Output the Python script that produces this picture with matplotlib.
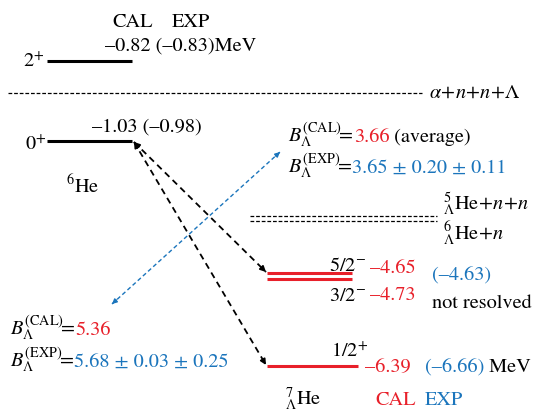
import matplotlib
matplotlib.use("Agg")
import matplotlib.pyplot as plt
import numpy as np

plt.rcParams['font.family'] = ['STIXGeneral', 'DejaVu Serif']
plt.rcParams['mathtext.fontset'] = 'stix'

RED = '#e8202a'
BLUE = '#1b75bc'

# ---------------- data ----------------
he6_spins = ['2', '0']
he6_parity = ['+', '+']
he6_cal = [-0.82, -1.03]
he6_exp = [-0.83, -0.98]

he7_spins = ['5/2', '3/2', '1/2']
he7_parity = ['-', '-', '+']
he7_cal = [-4.65, -4.73, -6.39]
he7_exp = [-4.63, -6.66]

bl_cal = [3.66, 5.36]
bl_exp = [3.65, 5.68]
bl_stat = [0.20, 0.03]
bl_sys = [0.11, 0.25]

def fm(v):
    return ('%.2f' % v).replace('-', '\u2013')

def par(p):
    return '\u2212' if p == '-' else '+'

# ---------------- figure ----------------
W, H = 538, 414
fig = plt.figure(figsize=(W / 100, H / 100), dpi=100)
ax = fig.add_axes([0, 0, 1, 1])
ax.set_xlim(0, W)
ax.set_ylim(H, 0)
ax.axis('off')
renderer = fig.canvas.get_renderer()
FS = 14.6

def seq(x, y, parts, fs=FS):
    for s, c in parts:
        t = ax.text(x, y, s, color=c, fontsize=fs, ha='left', va='baseline')
        bb = t.get_window_extent(renderer=renderer)
        x += bb.width
    return x

# 6He levels
ax.plot([47, 132], [62, 62], color='black', lw=2.2, solid_capstyle='butt')
ax.plot([47, 132], [142, 142], color='black', lw=2.2, solid_capstyle='butt')
seq(23, 67, [(he6_spins[0] + '$^{' + par(he6_parity[0]) + '}$', 'black')])
seq(25, 150, [(he6_spins[1] + '$^{' + par(he6_parity[1]) + '}$', 'black')])
seq(112, 27, [('CAL', 'black')])
seq(172, 27, [('EXP', 'black')])
seq(105, 51, [(fm(he6_cal[0]) + ' (' + fm(he6_exp[0]) + ')MeV', 'black')])
seq(92, 132, [(fm(he6_cal[1]) + ' (' + fm(he6_exp[1]) + ')', 'black')])
seq(66, 193, [(r'$^{6}\mathrm{He}$', 'black')])

# thresholds
ax.plot([8, 422], [94, 94], color='black', lw=0.9, dashes=(3, 1.5))
seq(429, 98, [(r'$\alpha\!+\!n\!+\!n\!+\!\Lambda$', 'black')])
ax.plot([250, 437], [217, 217], color='black', lw=0.9, dashes=(3, 1.5))
ax.plot([250, 437], [222, 222], color='black', lw=0.9, dashes=(3, 1.5))
seq(443, 210, [(r'${}^{5}_{\Lambda}\mathrm{He}\!+\!n\!+\!n$', 'black')])
seq(443, 240, [(r'${}^{6}_{\Lambda}\mathrm{He}\!+\!n$', 'black')])

# 7LHe levels
ax.plot([267, 352], [274, 274], color=RED, lw=2.2, solid_capstyle='butt')
ax.plot([267, 352], [280, 280], color=RED, lw=2.2, solid_capstyle='butt')
ax.plot([267, 358], [367, 367], color=RED, lw=2.2, solid_capstyle='butt')

seq(329, 271, [(he7_spins[0] + '$^{' + par(he7_parity[0]) + '}$', 'black')])
seq(329, 301, [(he7_spins[1] + '$^{' + par(he7_parity[1]) + '}$', 'black')])
seq(331, 357, [(he7_spins[2] + '$^{' + par(he7_parity[2]) + '}$', 'black')])
seq(370, 273, [(fm(he7_cal[0]), RED)])
seq(370, 300, [(fm(he7_cal[1]), RED)])
seq(365, 372, [(fm(he7_cal[2]), RED)])
seq(432, 280, [('(' + fm(he7_exp[0]) + ')', BLUE)])
seq(432, 308, [('not resolved', 'black')])
seq(425, 372, [('(' + fm(he7_exp[1]) + ')', BLUE), (' MeV', 'black')])
seq(285, 405, [(r'${}^{7}_{\Lambda}\mathrm{He}$', 'black')])
seq(375, 405, [('CAL', RED)])
seq(425, 405, [('EXP', BLUE)])

# B_Lambda texts
BC = r'$B_{\Lambda}^{(\mathrm{CAL})}\!$='
BE = r'$B_{\Lambda}^{(\mathrm{EXP})}\!$='
seq(288, 142, [(BC, 'black'), (fm(bl_cal[0]), RED), (' (average)', 'black')])
seq(288, 173, [(BE, 'black'), ('%.2f \u00b1 %.2f \u00b1 %.2f' % (bl_exp[0], bl_stat[0], bl_sys[0]), BLUE)])
seq(10, 335, [(BC, 'black'), (fm(bl_cal[1]), RED)])
seq(10, 367, [(BE, 'black'), ('%.2f \u00b1 %.2f \u00b1 %.2f' % (bl_exp[1], bl_stat[1], bl_sys[1]), BLUE)])

# arrows
def darrow(p0, p1, color, lw, dashes, ms):
    p0 = np.array(p0, float); p1 = np.array(p1, float)
    ax.plot([p0[0], p1[0]], [p0[1], p1[1]], color=color, lw=lw, dashes=dashes)
    d = (p1 - p0) / np.linalg.norm(p1 - p0)
    for tip, dirv in ((p1, d), (p0, -d)):
        ax.annotate('', xy=tip, xytext=tip - 6 * dirv,
                    arrowprops=dict(arrowstyle='-|>', color=color, lw=lw,
                                    mutation_scale=ms, shrinkA=0, shrinkB=0))

darrow((134, 143), (266, 273), 'black', 1.3, (3.5, 2.5), 8)
darrow((134, 143), (266, 366), 'black', 1.3, (3.5, 2.5), 8)
darrow((112, 305), (280, 153), BLUE, 1.0, (3, 2), 7)

fig.savefig('out.png', dpi=100)
